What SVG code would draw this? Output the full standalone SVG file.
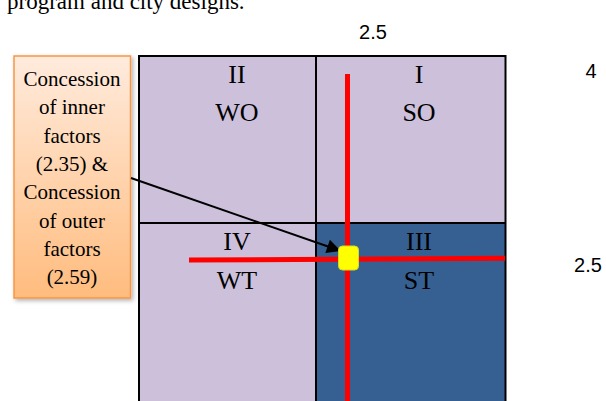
<svg xmlns="http://www.w3.org/2000/svg" width="606" height="401" viewBox="0 0 606 401">
  <style>
    .serif { font-family: "Liberation Serif", "Times New Roman", serif; fill: #000; }
    .box { font-size: 21px; text-anchor: middle; }
    .quad { font-size: 26px; text-anchor: middle; }
    .num { font-family: "Liberation Sans", Arial, sans-serif; font-size: 20px; fill: #000; text-anchor: middle; }
    .grid { stroke: #000; stroke-width: 2; fill: none; }
    .red { stroke: #FF0000; stroke-width: 5; }
  </style>
  <defs>
    <linearGradient id="orangeGrad" x1="0" y1="0" x2="0" y2="1">
      <stop offset="0" stop-color="#FFEBDD"/>
      <stop offset="1" stop-color="#FFBC7E"/>
    </linearGradient>
    <filter id="shadow" x="-10%" y="-10%" width="130%" height="130%">
      <feDropShadow dx="2" dy="2" stdDeviation="2" flood-color="#000" flood-opacity="0.3"/>
    </filter>
    <marker id="arrow" viewBox="0 0 10 10" refX="9" refY="5" markerWidth="8" markerHeight="7" orient="auto" markerUnits="strokeWidth">
      <path d="M0,0 L10,5 L0,10 z" fill="#000"/>
    </marker>
  </defs>

  <rect width="606" height="401" fill="#FFFFFF"/>

  <text class="serif" x="7" y="9" font-size="23">program and city designs.</text>

  <g id="axis-labels">
    <text class="num" x="373" y="39">2.5</text>
    <text class="num" x="591" y="78">4</text>
    <text class="num" x="588" y="272">2.5</text>
  </g>

  <g id="quadrant-II">
    <rect x="139" y="56" width="177" height="167" fill="#CCC0DA"/>
    <text class="serif quad" x="237" y="83">II</text>
    <text class="serif quad" x="237" y="121">WO</text>
  </g>
  <g id="quadrant-I">
    <rect x="316" y="56" width="189.5" height="167" fill="#CCC0DA"/>
    <text class="serif quad" x="419" y="83">I</text>
    <text class="serif quad" x="419" y="121">SO</text>
  </g>
  <g id="quadrant-IV">
    <rect x="139" y="223" width="177" height="180" fill="#CCC0DA"/>
    <text class="serif quad" x="237" y="250">IV</text>
    <text class="serif quad" x="237" y="289">WT</text>
  </g>
  <g id="quadrant-III">
    <rect x="316" y="223" width="189.5" height="180" fill="#366092"/>
    <text class="serif quad" x="419" y="250">III</text>
    <text class="serif quad" x="419" y="289">ST</text>
  </g>

  <g id="grid">
    <rect class="grid" x="139" y="56" width="366.5" height="350"/>
    <line class="grid" x1="316" y1="56" x2="316" y2="401"/>
    <line class="grid" x1="139" y1="223" x2="505.5" y2="223"/>
  </g>

  <g id="concession-box">
    <rect x="14" y="56" width="116.5" height="242" fill="url(#orangeGrad)" stroke="#F79646" stroke-width="1.5" filter="url(#shadow)"/>
    <text class="serif box" x="72" y="86">Concession</text>
    <text class="serif box" x="72" y="114.3">of inner</text>
    <text class="serif box" x="72" y="142.6">factors</text>
    <text class="serif box" x="72" y="170.9">(2.35) &amp;</text>
    <text class="serif box" x="72" y="199.2">Concession</text>
    <text class="serif box" x="72" y="227.5">of outer</text>
    <text class="serif box" x="72" y="255.8">factors</text>
    <text class="serif box" x="72" y="284.1">(2.59)</text>
  </g>

  <g id="connectors">
    <line class="red" x1="347.5" y1="74" x2="347.5" y2="401"/>
    <line class="red" x1="189" y1="260" x2="505" y2="258.3"/>
    <line x1="131" y1="178" x2="339.5" y2="250.5" stroke="#000" stroke-width="2" marker-end="url(#arrow)"/>
  </g>

  <g id="point">
    <rect x="338.5" y="246" width="20" height="24" rx="4" ry="4" fill="#FFFF00" stroke="#D8D820" stroke-width="1"/>
  </g>
</svg>
